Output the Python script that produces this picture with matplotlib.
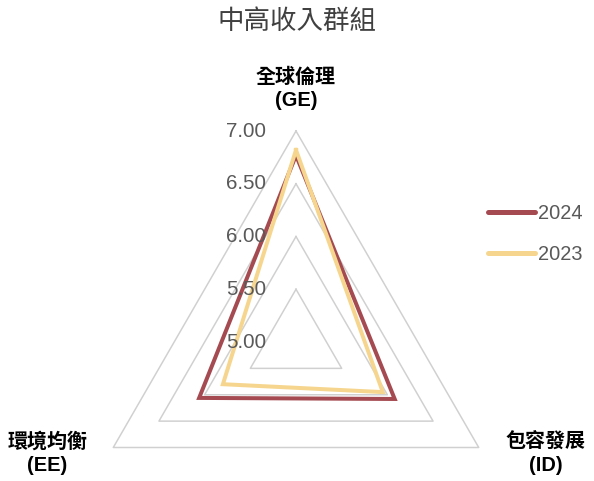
import numpy as np
import matplotlib
matplotlib.use("Agg")
import matplotlib.pyplot as plt

plt.rcParams['font.family'] = ['Liberation Sans', 'Noto Sans CJK TC', 'DejaVu Sans']

title = "中高收入群組"
categories = ["全球倫理\n(GE)", "包容發展\n(ID)", "環境均衡\n(EE)"]
series_names = ["2024", "2023"]
values_2024 = [6.77, 6.08, 6.06]
values_2023 = [6.82, 5.95, 5.80]
tick_values = [5.00, 5.50, 6.00, 6.50, 7.00]
tick_labels = ["5.00", "5.50", "6.00", "6.50", "7.00"]

colors = {"2024": "#A44A50", "2023": "#F6D68E"}

DPI = 72
fig = plt.figure(figsize=(594 / DPI, 481 / DPI), dpi=DPI)
W, H = 594, 481
cx, cy, R = 296, 342, 211
ax = fig.add_axes([(cx - R) / W, (H - cy - R) / H, 2 * R / W, 2 * R / H], projection='polar')
ax.set_theta_offset(np.pi / 2)
ax.set_theta_direction(-1)
ax.set_ylim(tick_values[0], tick_values[-1])
ax.grid(False)
ax.set_xticks([])
ax.set_yticks([])
ax.spines['polar'].set_visible(False)
ax.patch.set_alpha(0)

angles = np.linspace(0, 2 * np.pi, len(categories), endpoint=False)
closed = np.concatenate([angles, angles[:1]])

# grid triangles
for v in tick_values[1:]:
    ax.plot(closed, [v] * len(closed), color="#D0D0D0", lw=1.5, zorder=1, clip_on=False)

# series
for name, vals in [("2024", values_2024), ("2023", values_2023)]:
    ax.plot(closed, list(vals) + [vals[0]], color=colors[name], lw=4,
            solid_joinstyle='miter', zorder=3 if name == "2023" else 2,
            label=name, clip_on=False)

# tick labels
for v, lab in zip(tick_values, tick_labels):
    ax.annotate(lab, xy=(0, v), xytext=(-30, 0), textcoords='offset points',
                ha='right', va='center', fontsize=20.5, color="#595959", zorder=5)

# category labels
offsets = [(0, 42), (67, -6), (-66, -6)]
for ang, lab, off in zip(angles, categories, offsets):
    ax.annotate(lab, xy=(ang, tick_values[-1]), xytext=off, textcoords='offset points',
                ha='center', va='center', fontsize=20, fontweight='bold',
                color="#000000", linespacing=1.3, annotation_clip=False)

fig.text(0.5, 1 - 22 / H, title, ha='center', va='center', fontsize=26.5, color="#404040")

handles, labels = ax.get_legend_handles_labels()
order = [labels.index(n) for n in series_names]
fs = 20
leg = fig.legend([handles[i] for i in order], [labels[i] for i in order],
                 loc='center left', bbox_to_anchor=(488 / W, 1 - 234 / H),
                 frameon=False, fontsize=fs, handlelength=47 / fs, handletextpad=3 / fs,
                 labelspacing=1.1, borderpad=0, borderaxespad=0)
for t in leg.get_texts():
    t.set_color("#595959")
for l in leg.get_lines():
    l.set_linewidth(5)
    l.set_solid_capstyle('round')

fig.savefig("out.png", dpi=DPI)
